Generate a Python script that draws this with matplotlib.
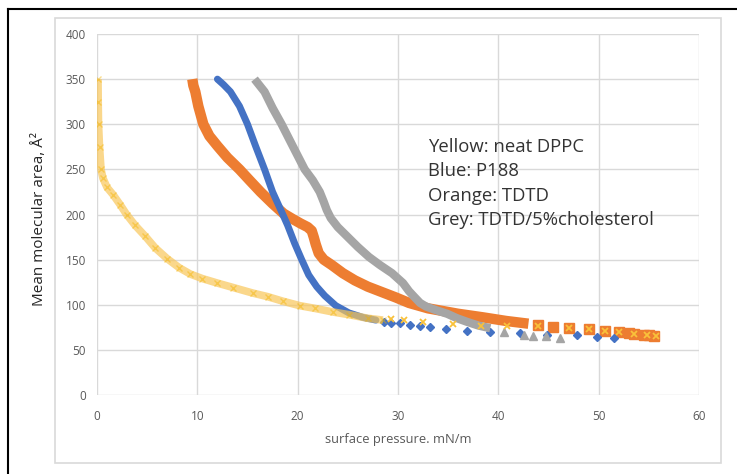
import matplotlib
matplotlib.use("Agg")
import matplotlib.pyplot as plt
from matplotlib.lines import Line2D
from matplotlib.patches import FancyBboxPatch

# neat DPPC (yellow) - dense part then the sparse tail
dppc_x = [0.1, 0.12, 0.15, 0.25, 0.4, 0.6, 1.0, 1.6, 2.3, 2.95, 3.8, 4.8, 5.8, 7.0, 8.2,
          9.3, 10.5, 12.0, 13.6, 15.5, 17.0, 18.5, 20.2, 21.7, 23.5, 25.1, 27.0, 28.5]
dppc_y = [350, 325, 300, 275, 250, 240, 230, 222, 211, 200, 188, 176, 163, 151, 141,
          134, 129, 124, 119, 113, 109, 104, 99, 96, 92, 89, 85, 83]
dppc_tail_x = [29.3, 30.6, 32.5, 35.5, 38.3, 40.9, 44.0, 47.0, 49.0, 50.6, 52.0, 53.5, 54.8, 55.7]
dppc_tail_y = [84, 83, 81, 79, 77, 77, 77, 74, 73, 71, 70, 68, 66, 65]

# P188 (blue)
p188_x = [12.0, 12.6, 13.3, 14.2, 15.0, 15.8, 16.7, 17.5, 18.4, 19.0, 19.7, 20.4, 21.1,
          21.9, 22.7, 23.8, 25.1, 26.5, 27.8]
p188_y = [350, 344, 336, 320, 300, 276, 250, 225, 203, 188, 168, 150, 133,
          120, 110, 99, 91, 86, 83]
p188_tail_x = [28.6, 29.3, 30.2, 31.2, 32.2, 33.2, 34.8, 36.9, 39.2, 42.2, 44.9, 47.8, 49.8, 51.5]
p188_tail_y = [80.5, 80, 79.4, 77.5, 76.5, 75, 73, 71, 70, 69, 67, 66, 64, 63.5]

# TDTD (orange)
tdtd_x = [9.5, 9.6, 9.8, 10.1, 10.6, 11.2, 12.0, 13.0, 14.2, 15.2, 16.3, 17.5, 18.6, 19.5,
          20.3, 21.0, 21.4, 21.6, 21.8, 22.1, 22.6, 23.4, 24.5, 25.7, 27.0, 28.4, 29.8,
          31.1, 33.0, 34.5, 36.0, 38.5, 40.8, 43.0]
tdtd_y = [350, 343, 336, 320, 300, 287, 276, 263, 250, 238, 225, 212, 201, 195,
          190, 186, 182, 175, 167, 157, 150, 144, 135, 127, 120, 114, 108,
          102, 96, 93, 90, 86, 82, 79]
tdtd_tail_x = [44.0, 45.4, 47.0, 49.0, 50.6, 52.0, 53.0, 53.5, 54.5, 55.0, 55.5]
tdtd_tail_y = [77.5, 75, 74, 73, 71, 70, 69, 68, 66.5, 66, 65]

# TDTD/5% cholesterol (grey)
chol_x = [15.7, 16.2, 16.7, 17.5, 18.4, 19.5, 20.7, 21.5, 22.2, 22.6, 22.9, 23.3, 24.0,
          25.0, 26.0, 27.1, 28.2, 29.4, 30.5, 31.1, 31.6, 32.2, 32.8, 33.8, 34.9, 35.9,
          36.9, 38.0, 39.2]
chol_y = [350, 343, 336, 318, 300, 276, 250, 238, 225, 214, 205, 196, 186,
          175, 164, 153, 144, 135, 124, 115, 109, 102, 98, 94, 90, 85,
          81, 77, 74]
chol_tail_x = [40.6, 42.6, 43.5, 44.8, 46.1]
chol_tail_y = [70, 66.5, 65, 65, 63]

x_ticks = [0, 10, 20, 30, 40, 50, 60]
y_ticks = [0, 50, 100, 150, 200, 250, 300, 350, 400]

BLUE, ORANGE, GREY, YELLOW = "#4472C4", "#ED7D31", "#A5A5A5", "#F8C65A"
TICK_COLOR = "#595959"

plt.rcParams["font.family"] = ["Open Sans", "DejaVu Sans"]

fig = plt.figure(figsize=(7.37, 4.74), dpi=100)
ax = fig.add_axes([97 / 737, 1 - 395 / 474, 602 / 737, 361 / 474])

# outer frame bits
fig.add_artist(Line2D([8 / 737, 8 / 737], [0, 1 - 9 / 474], color="black", lw=1.5,
                      transform=fig.transFigure))
fig.add_artist(Line2D([8 / 737, 1], [1 - 9 / 474, 1 - 9 / 474], color="black", lw=1.5,
                      transform=fig.transFigure))
fig.add_artist(FancyBboxPatch((55 / 737, 1 - 463 / 474), 666 / 737, 445 / 474,
                              boxstyle="square,pad=0", fc="none", ec="#D9D9D9", lw=1.2,
                              transform=fig.transFigure))

# series - dense stretches as thick bands, sparse tails as markers
ax.plot(tdtd_x, tdtd_y, color=ORANGE, lw=7.5, solid_capstyle="butt",
        solid_joinstyle="round", zorder=3)
ax.plot(tdtd_tail_x, tdtd_tail_y, "s", color=ORANGE, ms=6.5, mec=ORANGE, zorder=3)

ax.plot(p188_x, p188_y, color=BLUE, lw=5, solid_capstyle="round",
        solid_joinstyle="round", zorder=4)
ax.plot(p188_tail_x, p188_tail_y, "D", color=BLUE, ms=4.5, mec=BLUE, zorder=4)

ax.plot(chol_x, chol_y, color=GREY, lw=6, solid_capstyle="butt",
        solid_joinstyle="round", zorder=5)
ax.plot(chol_tail_x, chol_tail_y, "^", color=GREY, ms=5.5, mec=GREY, zorder=5)

ax.plot(dppc_x, dppc_y, color=YELLOW, lw=5.5, alpha=0.7, solid_capstyle="butt",
        solid_joinstyle="round", zorder=6)
ax.plot(dppc_x, dppc_y, "x", color="#F4B400", ms=5, mew=1, alpha=0.45, zorder=6)
ax.plot(dppc_tail_x, dppc_tail_y, "x", color="#F9C13A", ms=5, mew=1.3, zorder=6)

ax.set_xlim(0, 60)
ax.set_ylim(0, 400)
ax.set_xticks(x_ticks)
ax.set_yticks(y_ticks)
ax.grid(True, color="#D9D9D9", lw=1.0)
ax.set_axisbelow(True)
for s in ax.spines.values():
    s.set_visible(False)
ax.tick_params(length=0, labelsize=8.5, labelcolor=TICK_COLOR)
ax.tick_params(axis="y", pad=8)
ax.tick_params(axis="x", pad=11)

ax.set_xlabel("surface pressure. mN/m", fontsize=9.3, color=TICK_COLOR, labelpad=7)
fig.text(40 / 737, 1 - 219 / 474, "Mean molecular area, Å²", rotation=90, fontsize=11,
         color="#262626", ha="center", va="center")

fig.text(428 / 737, 1 - 138 / 474,
         "Yellow: neat DPPC\nBlue: P188\nOrange: TDTD\nGrey: TDTD/5%cholesterol",
         fontsize=13.3, color="#333333", ha="left", va="top", linespacing=1.45)

fig.savefig("out.png", dpi=100)
